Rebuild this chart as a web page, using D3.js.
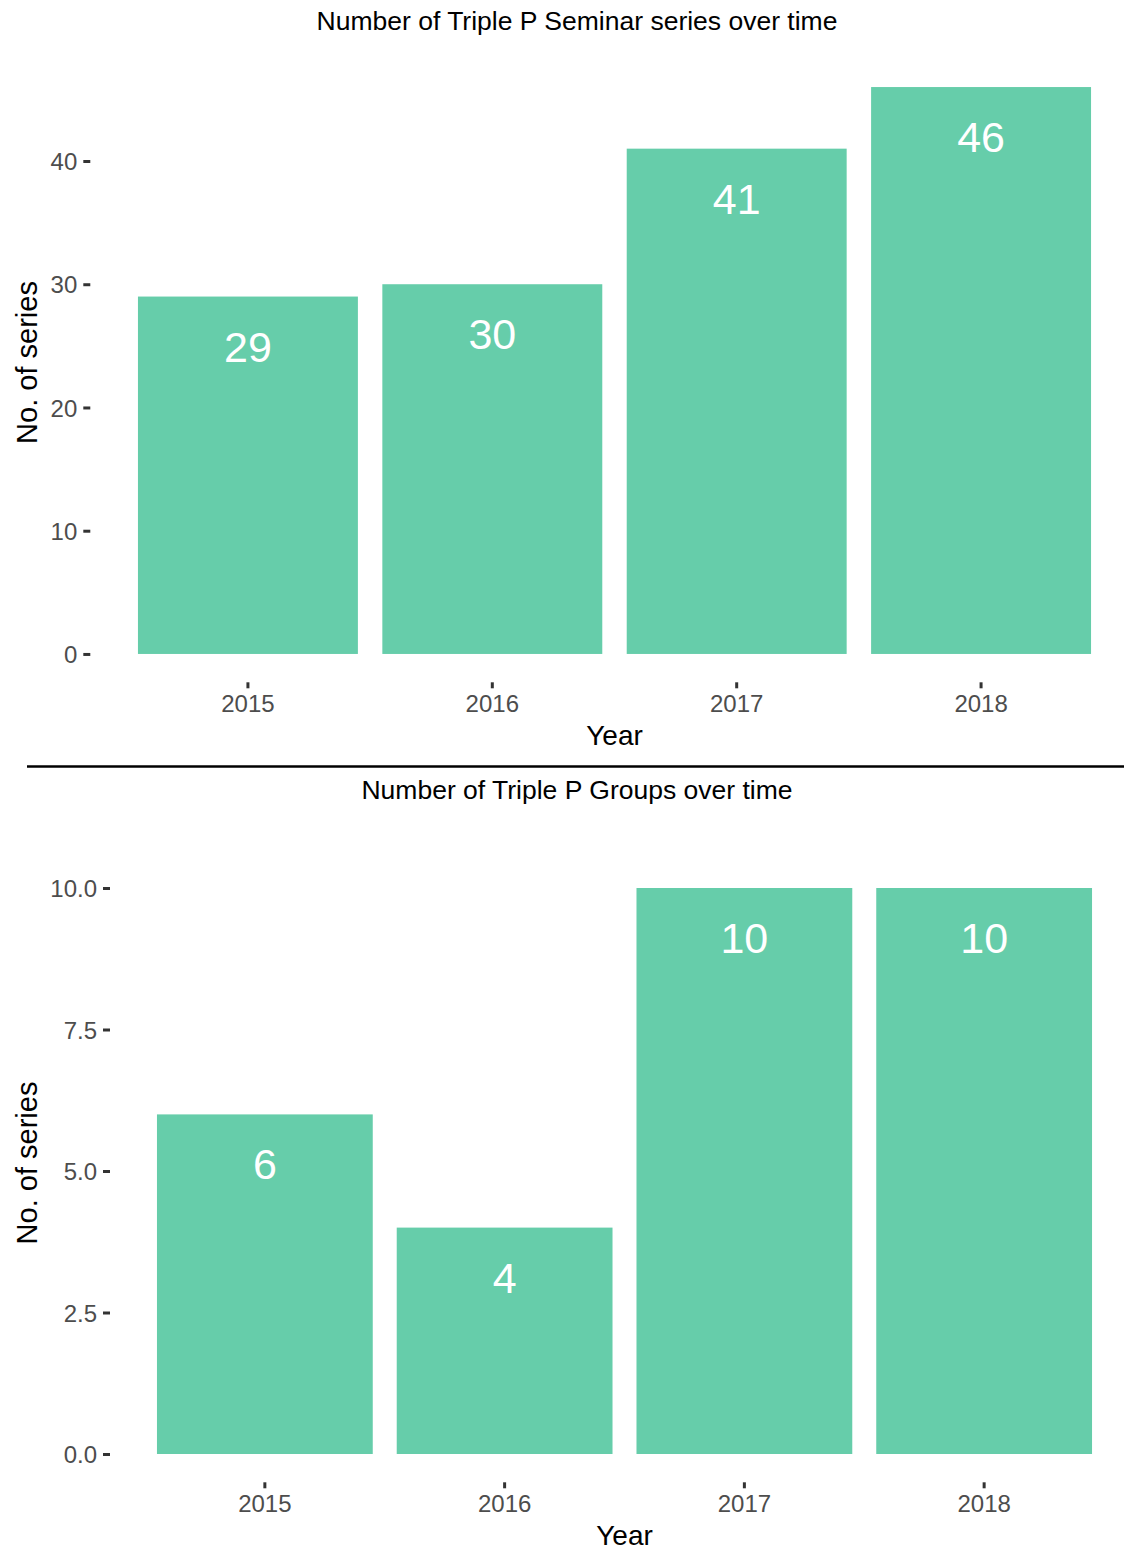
<!DOCTYPE html>
<html>
<head>
<meta charset="utf-8">
<script src="https://cdn.jsdelivr.net/npm/d3@7"></script>
<style>
  body { margin: 0; background: #fff; }
  svg { display: block; }
  text { font-family: "Liberation Sans", Arial, Helvetica, sans-serif; }
</style>
</head>
<body>
<svg id="chart" width="1130" height="1550"></svg>
<script>
// ---- Data ----
const years = ["2015", "2016", "2017", "2018"];
const seminarSeries = [29, 30, 41, 46];
const groupSeries = [6, 4, 10, 10];
const seminarTicks = [0, 10, 20, 30, 40];
const groupTicks = [0, 2.5, 5, 7.5, 10];
const seminarTitle = "Number of Triple P Seminar series over time";
const groupTitle = "Number of Triple P Groups over time";
const xTitle = "Year";
const yTitle = "No. of series";

const barColor = "#66CDAA";
const svg = d3.select("#chart");

function drawPanel(cfg) {
  const g = svg.append("g");
  const maxV = d3.max(cfg.values);
  const x = d3.scaleBand().domain(years).range([cfg.left, cfg.right])
    .paddingInner(0.1).paddingOuter(0.15);
  const y = d3.scaleLinear().domain([-0.05 * maxV, 1.05 * maxV])
    .range([cfg.bottom, cfg.top]);

  // title
  g.append("text").attr("x", 577).attr("y", cfg.titleY)
    .attr("text-anchor", "middle").attr("font-size", 26.5).attr("fill", "#000")
    .text(cfg.title);

  // bars
  g.selectAll("rect.bar").data(cfg.values).join("rect")
    .attr("class", "bar")
    .attr("x", (d, i) => x(years[i]))
    .attr("width", x.bandwidth())
    .attr("y", d => y(d))
    .attr("height", d => y(0) - y(d))
    .attr("fill", barColor);

  // bar labels
  g.selectAll("text.lab").data(cfg.values).join("text")
    .attr("class", "lab")
    .attr("x", (d, i) => x(years[i]) + x.bandwidth() / 2)
    .attr("y", d => y(d) + 65)
    .attr("text-anchor", "middle").attr("font-size", 43).attr("fill", "#fff")
    .text(d => d);

  // y axis (ticks offset from panel)
  const yAxis = d3.axisLeft(y).tickValues(cfg.ticks).tickSize(7).tickPadding(6)
    .tickFormat(cfg.fmt);
  const ya = g.append("g").attr("transform", `translate(${cfg.left - 11},0)`).call(yAxis);
  ya.select(".domain").remove();
  ya.selectAll("line").attr("stroke", "#333").attr("stroke-width", 3);
  ya.selectAll("text").attr("font-size", 24).attr("fill", "#4d4d4d")
    .attr("dy", "0.36em");

  // x axis
  const xAxis = d3.axisBottom(x).tickSize(6).tickPadding(7);
  const xa = g.append("g").attr("transform", `translate(0,${cfg.bottom})`).call(xAxis);
  xa.select(".domain").remove();
  xa.selectAll("line").attr("stroke", "#333").attr("stroke-width", 3);
  xa.selectAll("text").attr("font-size", 24).attr("fill", "#4d4d4d")
    .attr("dy", "0.71em");

  // axis titles
  g.append("text").attr("x", (cfg.left + cfg.right) / 2).attr("y", cfg.bottom + 63)
    .attr("text-anchor", "middle").attr("font-size", 28).attr("fill", "#000")
    .text(xTitle);
  g.append("text")
    .attr("transform", `translate(37,${(cfg.top + cfg.bottom) / 2 - 8}) rotate(-90)`)
    .attr("text-anchor", "middle").attr("font-size", 29).attr("fill", "#000")
    .text(yTitle);
}

drawPanel({
  title: seminarTitle, titleY: 30, values: seminarSeries, ticks: seminarTicks,
  fmt: d3.format("d"), left: 101.3, right: 1127.7, top: 58.7, bottom: 682.3
});

svg.append("line").attr("x1", 27).attr("x2", 1124).attr("y1", 766.5).attr("y2", 766.5)
  .attr("stroke", "#000").attr("stroke-width", 2.6);

drawPanel({
  title: groupTitle, titleY: 799, values: groupSeries, ticks: groupTicks,
  fmt: d3.format(".1f"), left: 121, right: 1128, top: 859.7, bottom: 1482.3
});
</script>
</body>
</html>
